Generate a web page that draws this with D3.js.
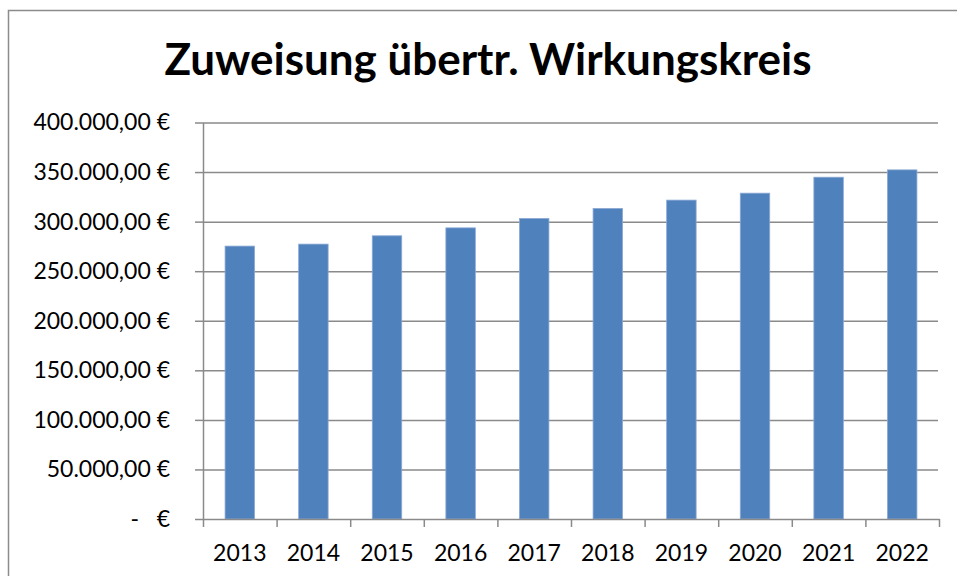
<!DOCTYPE html>
<html>
<head>
<meta charset="utf-8">
<script src="https://cdn.jsdelivr.net/npm/d3@7"></script>
<style>
  html, body { margin: 0; padding: 0; background: #fff; }
  svg { display: block; font-family: Lato, "Open Sans", sans-serif; }
</style>
</head>
<body>
<script>
// chart data
const YEARS = ['2013', '2014', '2015', '2016', '2017', '2018', '2019', '2020', '2021', '2022'];
const VALUES = [275300, 277300, 285700, 293700, 303200, 313300, 321700, 328700, 344800, 352200];
const Y_TICKS = [0, 50000, 100000, 150000, 200000, 250000, 300000, 350000, 400000];
const TITLE = 'Zuweisung übertr. Wirkungskreis';

// canvas
const WIDTH = 957;
const HEIGHT = 576;
const PLOT_LEFT = 203;
const PLOT_RIGHT = 939;
const PLOT_TOP = 122.5;
const PLOT_BOT = 519;
const LABEL_SIZE = 23;

const BAR_COLOR = '#4f81bd';
const BAR_EDGE = '#8aa8d4';
const GRID_COLOR = '#8a8a8a';

// german accounting-style euro format
const de = d3.formatLocale({
  decimal: ',',
  thousands: '.',
  grouping: [3],
  currency: ['', ' €']
});
const euro = v => v === 0 ? '-\u00a0\u00a0\u00a0€' : de.format(',.2f')(v) + ' €';

const svg = d3.select('body')
  .append('svg')
    .attr('width', WIDTH)
    .attr('height', HEIGHT);

// outer frame (only left and top edges are in view)
svg.append('path')
    .attr('d', `M8.5,${HEIGHT} V10.5 H${WIDTH}`)
    .attr('fill', 'none')
    .attr('stroke', '#8c8c8c')
    .attr('stroke-width', 1.5);

// title
svg.append('text')
    .attr('x', 488)
    .attr('y', 75)
    .attr('text-anchor', 'middle')
    .attr('font-size', 43)
    .attr('font-weight', 'bold')
    .attr('textLength', 647)
    .attr('lengthAdjust', 'spacingAndGlyphs')
    .attr('fill', '#000')
    .text(TITLE);

// scales
const x = d3.scaleBand()
    .domain(YEARS)
    .range([PLOT_LEFT, PLOT_RIGHT])
    .paddingInner(0.6)
    .paddingOuter(0.3);

const y = d3.scaleLinear()
    .domain([0, 400000])
    .range([PLOT_BOT, PLOT_TOP]);

// category boundaries for the x tick marks
const xEdge = d3.scaleLinear()
    .domain([0, YEARS.length])
    .range([PLOT_LEFT, PLOT_RIGHT]);

// gridlines
svg.append('g')
    .attr('class', 'grid')
    .attr('transform', `translate(${PLOT_LEFT}, 0)`)
    .call(d3.axisLeft(y)
      .tickValues(Y_TICKS.filter(t => t > 0))
      .tickSize(-(PLOT_RIGHT - 1 - PLOT_LEFT))
      .tickFormat(''))
    .call(g => g.select('.domain').remove())
    .call(g => g.selectAll('line')
      .attr('stroke', GRID_COLOR)
      .attr('stroke-width', 1.5));

// bars
svg.append('g')
  .selectAll('rect')
  .data(VALUES)
  .enter()
  .append('rect')
    .attr('x', (d, i) => x(YEARS[i]))
    .attr('y', d => y(d))
    .attr('width', x.bandwidth())
    .attr('height', d => y(0) - y(d))
    .attr('fill', BAR_COLOR)
    .attr('stroke', BAR_EDGE)
    .attr('stroke-width', 0.8);

// y axis
svg.append('g')
    .attr('id', 'y-axis')
    .attr('transform', `translate(${PLOT_LEFT}, 0)`)
    .call(d3.axisLeft(y)
      .tickValues(Y_TICKS)
      .tickSize(8)
      .tickSizeOuter(0)
      .tickPadding(25)
      .tickFormat(euro))
    .call(g => g.select('.domain')
      .attr('stroke', GRID_COLOR)
      .attr('stroke-width', 1.5))
    .call(g => g.selectAll('line')
      .attr('stroke', GRID_COLOR)
      .attr('stroke-width', 1.5))
    .call(g => g.selectAll('text')
      .attr('font-size', LABEL_SIZE)
      .attr('font-family', 'Lato, "Open Sans", sans-serif')
      .attr('fill', '#000'));

// x axis line and tick marks
svg.append('g')
    .attr('id', 'x-axis')
    .attr('transform', `translate(0, ${PLOT_BOT})`)
    .call(d3.axisBottom(xEdge)
      .ticks(YEARS.length)
      .tickSize(8)
      .tickSizeOuter(0)
      .tickFormat(''))
    .call(g => g.select('.domain')
      .attr('stroke', GRID_COLOR)
      .attr('stroke-width', 1.5))
    .call(g => g.selectAll('line')
      .attr('stroke', GRID_COLOR)
      .attr('stroke-width', 1.5));

// year labels
svg.append('g')
    .attr('transform', `translate(0, ${PLOT_BOT})`)
    .call(d3.axisBottom(x)
      .tickSize(0)
      .tickPadding(26))
    .call(g => g.select('.domain').remove())
    .call(g => g.selectAll('text')
      .attr('font-size', LABEL_SIZE)
      .attr('font-family', 'Lato, "Open Sans", sans-serif')
      .attr('fill', '#000'));
</script>
</body>
</html>
